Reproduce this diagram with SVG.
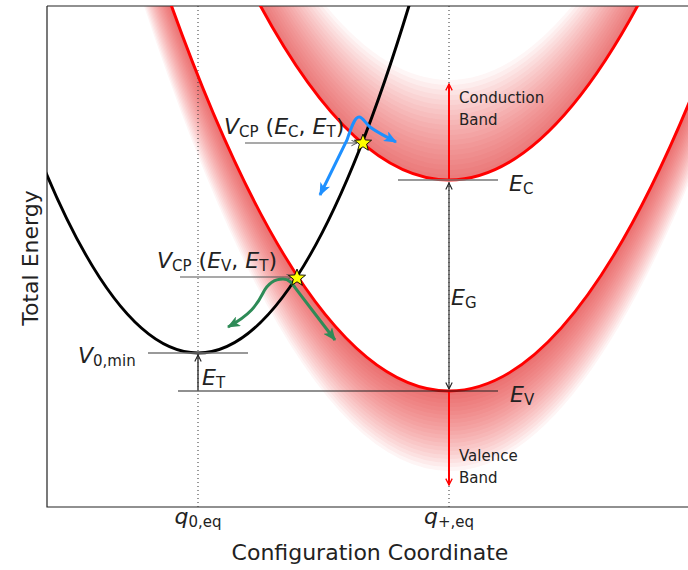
<svg xmlns="http://www.w3.org/2000/svg" width="688" height="570" viewBox="0 0 688 570">
<style>
.t{font-family:"DejaVu Sans",sans-serif;fill:#222}
.m{font-family:"DejaVu Sans",sans-serif;fill:#222;font-size:22px}
.i{font-style:italic}
.cb path{fill:#e01010;fill-opacity:0.04}
.vb path{fill:#e01010;fill-opacity:0.042}
.red{fill:none;stroke:#ff0000;stroke-width:3}
.blk{fill:none;stroke:#000;stroke-width:3}
.dot{stroke:#333;stroke-width:1;stroke-dasharray:1 3}
.lvl{stroke:#222;stroke-width:1.2;fill:none}
.gry{stroke:#777;stroke-width:1.5}
.ptr{stroke:#555;stroke-width:1.2;fill:none;marker-end:url(#ch)}
</style>
<defs>
<clipPath id="clip"><rect x="47" y="6" width="641" height="501"/></clipPath>
<marker id="ch" viewBox="0 0 10 10" refX="9" refY="5" markerWidth="7" markerHeight="7" markerUnits="userSpaceOnUse" orient="auto-start-reverse"><path d="M1,1 L9,5 L1,9" fill="none" stroke="context-stroke" stroke-width="1.4"/></marker>
<marker id="chk" viewBox="0 0 10 10" refX="9" refY="5" markerWidth="8" markerHeight="8" markerUnits="userSpaceOnUse" orient="auto-start-reverse"><path d="M1,1 L9,5 L1,9" fill="none" stroke="#222" stroke-width="1.4"/></marker>
<marker id="chr" viewBox="0 0 10 10" refX="9" refY="5" markerWidth="8" markerHeight="8" markerUnits="userSpaceOnUse" orient="auto-start-reverse"><path d="M1,1 L9,5 L1,9" fill="none" stroke="#ff0000" stroke-width="1.6"/></marker>
<marker id="hb" viewBox="0 0 12 10" refX="11" refY="5" markerWidth="13" markerHeight="11" markerUnits="userSpaceOnUse" orient="auto-start-reverse"><path d="M0,0 L12,5 L0,10 L3,5 Z" fill="#1e90ff"/></marker>
<marker id="hg" viewBox="0 0 12 10" refX="11" refY="5" markerWidth="13" markerHeight="11" markerUnits="userSpaceOnUse" orient="auto-start-reverse"><path d="M0,0 L12,5 L0,10 L3,5 Z" fill="#2e8b57"/></marker>
<path id="star" d="M0,-9 L2.23,-3.07 L8.56,-2.78 L3.61,1.17 L5.29,7.28 L0,3.8 L-5.29,7.28 L-3.61,1.17 L-8.56,-2.78 L-2.23,-3.07 Z" fill="#ffff00" stroke="#000" stroke-width="0.9"/>
</defs>
<rect width="688" height="570" fill="#fff"/>

<g id="shading" clip-path="url(#clip)">
<g class="cb">
<path d="M189,-151 Q449,511 709,-151 V-156 Q449,506 189,-156 Z"/>
<path d="M189,-151 Q449,511 709,-151 V-161 Q449,501 189,-161 Z"/>
<path d="M189,-151 Q449,511 709,-151 V-166 Q449,496 189,-166 Z"/>
<path d="M189,-151 Q449,511 709,-151 V-171 Q449,491 189,-171 Z"/>
<path d="M189,-151 Q449,511 709,-151 V-176 Q449,486 189,-176 Z"/>
<path d="M189,-151 Q449,511 709,-151 V-181 Q449,481 189,-181 Z"/>
<path d="M189,-151 Q449,511 709,-151 V-186 Q449,476 189,-186 Z"/>
<path d="M189,-151 Q449,511 709,-151 V-191 Q449,471 189,-191 Z"/>
<path d="M189,-151 Q449,511 709,-151 V-196 Q449,466 189,-196 Z"/>
<path d="M189,-151 Q449,511 709,-151 V-201 Q449,461 189,-201 Z"/>
<path d="M189,-151 Q449,511 709,-151 V-206 Q449,456 189,-206 Z"/>
<path d="M189,-151 Q449,511 709,-151 V-211 Q449,451 189,-211 Z"/>
<path d="M189,-151 Q449,511 709,-151 V-216 Q449,446 189,-216 Z"/>
<path d="M189,-151 Q449,511 709,-151 V-221 Q449,441 189,-221 Z"/>
<path d="M189,-151 Q449,511 709,-151 V-226 Q449,436 189,-226 Z"/>
<path d="M189,-151 Q449,511 709,-151 V-231 Q449,431 189,-231 Z"/>
<path d="M189,-151 Q449,511 709,-151 V-236 Q449,426 189,-236 Z"/>
<path d="M189,-151 Q449,511 709,-151 V-241 Q449,421 189,-241 Z"/>
<path d="M189,-151 Q449,511 709,-151 V-246 Q449,416 189,-246 Z"/>
<path d="M189,-151 Q449,511 709,-151 V-251 Q449,411 189,-251 Z"/>
</g>
<g class="vb">
<path d="M129,-121 Q449,903 769,-121 V-117 Q449,907 129,-117 Z"/>
<path d="M129,-121 Q449,903 769,-121 V-113 Q449,911 129,-113 Z"/>
<path d="M129,-121 Q449,903 769,-121 V-109 Q449,915 129,-109 Z"/>
<path d="M129,-121 Q449,903 769,-121 V-105 Q449,919 129,-105 Z"/>
<path d="M129,-121 Q449,903 769,-121 V-101 Q449,923 129,-101 Z"/>
<path d="M129,-121 Q449,903 769,-121 V-97 Q449,927 129,-97 Z"/>
<path d="M129,-121 Q449,903 769,-121 V-93 Q449,931 129,-93 Z"/>
<path d="M129,-121 Q449,903 769,-121 V-89 Q449,935 129,-89 Z"/>
<path d="M129,-121 Q449,903 769,-121 V-85 Q449,939 129,-85 Z"/>
<path d="M129,-121 Q449,903 769,-121 V-81 Q449,943 129,-81 Z"/>
<path d="M129,-121 Q449,903 769,-121 V-77 Q449,947 129,-77 Z"/>
<path d="M129,-121 Q449,903 769,-121 V-73 Q449,951 129,-73 Z"/>
<path d="M129,-121 Q449,903 769,-121 V-69 Q449,955 129,-69 Z"/>
<path d="M129,-121 Q449,903 769,-121 V-65 Q449,959 129,-65 Z"/>
<path d="M129,-121 Q449,903 769,-121 V-61 Q449,963 129,-61 Z"/>
<path d="M129,-121 Q449,903 769,-121 V-57 Q449,967 129,-57 Z"/>
<path d="M129,-121 Q449,903 769,-121 V-53 Q449,971 129,-53 Z"/>
<path d="M129,-121 Q449,903 769,-121 V-49 Q449,975 129,-49 Z"/>
<path d="M129,-121 Q449,903 769,-121 V-45 Q449,979 129,-45 Z"/>
<path d="M129,-121 Q449,903 769,-121 V-41 Q449,983 129,-41 Z"/>
</g>
</g>

<g id="axes" fill="none" stroke="#222" stroke-width="1.2">
<path d="M47,6 V507 H688"/>
<path d="M47,6 H688"/>
</g>

<g id="guides">
<line class="dot" x1="198" y1="6" x2="198" y2="507"/>
<line class="dot" x1="449" y1="6" x2="449" y2="507"/>
</g>

<g id="curves" clip-path="url(#clip)">
<path id="conduction-band" class="red" d="M189,-151 Q449,511 709,-151"/>
<path id="valence-band" class="red" d="M129,-121 Q449,903 769,-121"/>
<path id="defect-curve" class="blk" d="M-17,-7.55 Q198,713.55 413,-7.55"/>
</g>

<g id="levels">
<line class="gry" x1="148" y1="353" x2="248" y2="353"/>
<line class="gry" x1="398" y1="180" x2="498" y2="180" stroke="#555"/>
<line class="lvl" x1="178" y1="391" x2="498" y2="391"/>
</g>

<g id="connectors">
<line class="ptr" x1="245" y1="143" x2="357" y2="143"/>
<line class="ptr" x1="180" y1="277" x2="292" y2="277"/>
<line x1="198" y1="390" x2="198" y2="355" stroke="#222" stroke-width="1.3" marker-end="url(#chk)"/>
<line x1="449" y1="183" x2="449" y2="389" stroke="#333" stroke-width="1.2" marker-start="url(#chk)" marker-end="url(#chk)"/>
<line x1="449" y1="179" x2="449" y2="84" stroke="#ff0000" stroke-width="2" marker-end="url(#chr)"/>
<line x1="449" y1="392" x2="449" y2="485" stroke="#ff0000" stroke-width="2" marker-end="url(#chr)"/>
<path d="M320,195 L347,140 C352,125 355,117 359,117 C363,117 366,124 370,127 C378,133 387,137 396,142" fill="none" stroke="#1e90ff" stroke-width="3" marker-start="url(#hb)" marker-end="url(#hb)"/>
<path d="M228,327 C250,315 257,305 263,293 C268,283 276,279 283,279 C289,279 292,283 296,289 L335,340" fill="none" stroke="#2e8b57" stroke-width="3" marker-start="url(#hg)" marker-end="url(#hg)"/>
</g>

<g id="stars">
<use href="#star" x="363" y="143"/>
<use href="#star" x="297" y="278"/>
</g>

<g id="labels">
<text class="m" x="224" y="134"><tspan class="i">V</tspan><tspan font-size="15" dy="3">CP</tspan><tspan dy="-3"> (</tspan><tspan class="i">E</tspan><tspan font-size="15" dy="3">C</tspan><tspan dy="-3">, </tspan><tspan class="i">E</tspan><tspan font-size="15" dy="3">T</tspan><tspan dy="-3">)</tspan></text>
<text class="m" x="157" y="268"><tspan class="i">V</tspan><tspan font-size="15" dy="3">CP</tspan><tspan dy="-3"> (</tspan><tspan class="i">E</tspan><tspan font-size="15" dy="3">V</tspan><tspan dy="-3">, </tspan><tspan class="i">E</tspan><tspan font-size="15" dy="3">T</tspan><tspan dy="-3">)</tspan></text>
<text class="m" x="78" y="363"><tspan class="i">V</tspan><tspan font-size="15" dy="3">0,min</tspan></text>
<text class="m" x="202" y="385"><tspan class="i">E</tspan><tspan font-size="15" dy="3">T</tspan></text>
<text class="m" x="509" y="191"><tspan class="i">E</tspan><tspan font-size="15" dy="3">C</tspan></text>
<text class="m" x="451" y="305"><tspan class="i">E</tspan><tspan font-size="15" dy="3">G</tspan></text>
<text class="m" x="510" y="402"><tspan class="i">E</tspan><tspan font-size="15" dy="3">V</tspan></text>
<text class="t" font-size="15" x="459" y="103">Conduction</text>
<text class="t" font-size="15" x="459" y="125">Band</text>
<text class="t" font-size="15" x="459" y="461">Valence</text>
<text class="t" font-size="15" x="459" y="483">Band</text>
<text class="m" x="198" y="524" text-anchor="middle"><tspan class="i">q</tspan><tspan font-size="15" dy="3">0,eq</tspan></text>
<text class="m" x="449" y="524" text-anchor="middle"><tspan class="i">q</tspan><tspan font-size="15" dy="3">+,eq</tspan></text>
<text class="t" font-size="22" x="370" y="560" text-anchor="middle">Configuration Coordinate</text>
<text class="t" font-size="22" transform="translate(38,258) rotate(-90)" text-anchor="middle">Total Energy</text>
</g>
</svg>
